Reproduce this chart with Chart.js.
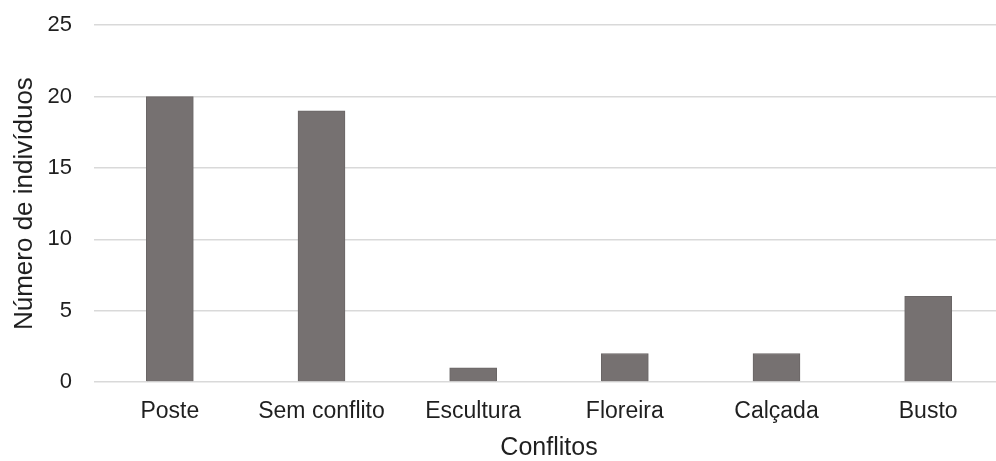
<!DOCTYPE html>
<html>
<head>
<meta charset="utf-8">
<script src="https://cdn.jsdelivr.net/npm/chart.js@4/dist/chart.umd.min.js"></script>
<style>
  html, body { margin: 0; padding: 0; background: #ffffff; overflow: hidden; }
  #wrap { width: 1004px; height: 461px; overflow: hidden; }
  #c { display: block; margin-top: -10px; }
</style>
</head>
<body>
<div id="wrap"><canvas id="c" width="1004" height="471"></canvas></div>
<script>
// Conflicts observed and number of individuals per conflict type
const categories = ['Poste', 'Sem conflito', 'Escultura', 'Floreira', 'Calçada', 'Busto'];
const individuals = [20, 19, 1, 2, 2, 6];
const yTicks = [0, 5, 10, 15, 20, 25];

const textColor = '#1f1f1f';
const fontFamily = '"Liberation Sans", Arial, sans-serif';

new Chart(document.getElementById('c'), {
  type: 'bar',
  data: {
    labels: categories,
    datasets: [{
      data: individuals,
      backgroundColor: '#767171',
      borderColor: '#6a6666',
      borderWidth: 1,
      barThickness: 47
    }]
  },
  options: {
    responsive: false,
    animation: false,
    layout: { padding: 0 },
    plugins: { legend: { display: false }, tooltip: { enabled: false } },
    scales: {
      x: {
        grid: { display: false, drawTicks: false },
        border: { display: false },
        ticks: { color: textColor, font: { family: fontFamily, size: 23 }, padding: 16, maxRotation: 0 },
        title: {
          display: true,
          text: 'Conflitos',
          color: textColor,
          font: { family: fontFamily, size: 25, lineHeight: 1 },
          padding: { top: 0, bottom: 0 }
        },
        afterFit: (s) => { s.height = 79; }
      },
      y: {
        min: 0,
        max: 25,
        afterBuildTicks: (s) => { s.ticks = yTicks.map(v => ({ value: v })); },
        grid: { color: '#d9d9d9', lineWidth: 1.5, drawTicks: false },
        border: { display: false },
        ticks: { color: textColor, font: { family: fontFamily, size: 22 }, padding: 22 },
        title: {
          display: true,
          text: 'Número de indivíduos',
          color: textColor,
          font: { family: fontFamily, size: 26, lineHeight: 1 },
          padding: { top: 12, bottom: 0 }
        },
        afterFit: (s) => { s.width = 94; }
      }
    }
  }
});
</script>
</body>
</html>
